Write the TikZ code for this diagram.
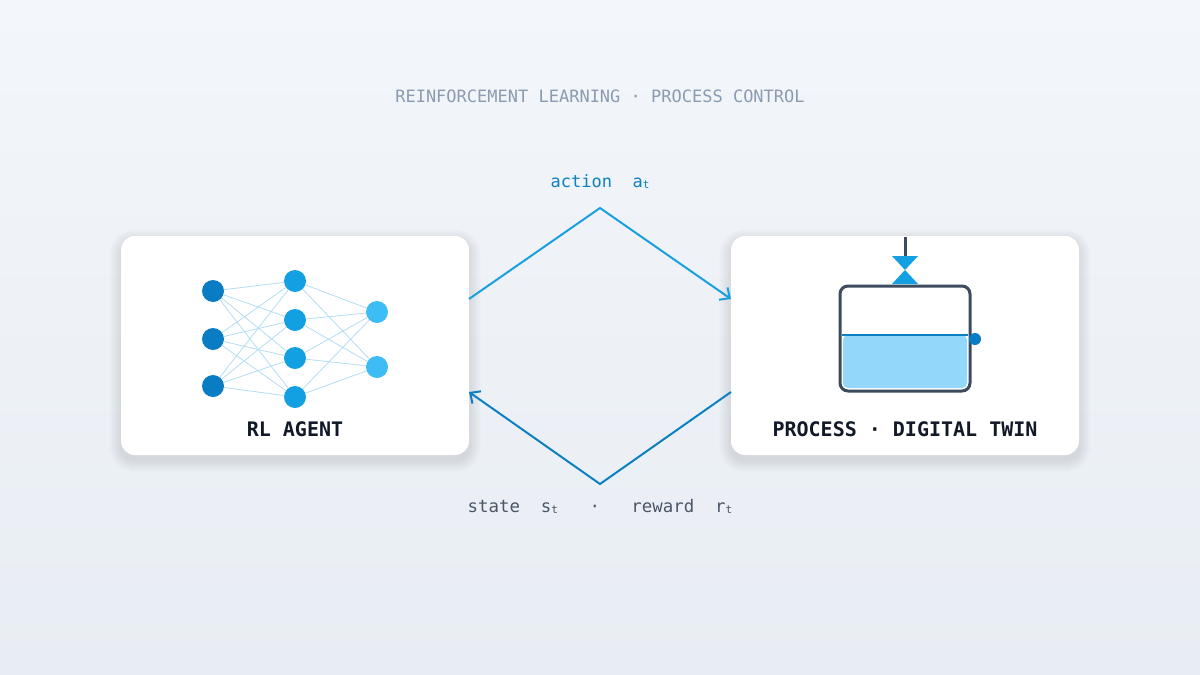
\documentclass[tikz,border=0pt]{standalone}
\usepackage{fontspec}
\setmonofont{DejaVu Sans Mono}
\usetikzlibrary{arrows.meta}
\definecolor{bgA}{HTML}{F3F6FA}\definecolor{bgB}{HTML}{E8EDF3}
\definecolor{inC}{HTML}{0A7CC4}\definecolor{hidC}{HTML}{13A0E3}\definecolor{outC}{HTML}{3DBCF5}
\definecolor{actC}{HTML}{1A9FDF}\definecolor{rewC}{HTML}{0D80C2}
\definecolor{ttl}{HTML}{8A9BB0}\definecolor{lbl}{HTML}{4A5566}\definecolor{dark}{HTML}{111827}
\definecolor{tank}{HTML}{3D4B5E}\definecolor{water}{HTML}{93D8FB}\definecolor{edgeC}{HTML}{B5DDF3}
\definecolor{shd}{HTML}{5A6B85}
\begin{document}
\begin{tikzpicture}[x=1pt,y=-1pt,font=\ttfamily,
 box/.style={draw=none,fill=white,rounded corners=14pt},
 neu/.style={circle,inner sep=0pt,minimum size=22pt},
 edge/.style={draw=edgeC,line width=0.8pt},
 flow/.style={line width=2pt,-{Straight Barb[length=8pt,width=15pt]}}]
\shade[top color=bgA,bottom color=bgB] (0,0) rectangle (1200,675);
\useasboundingbox (0,0) rectangle (1200,675);
\node[text=ttl,font=\ttfamily\fontsize{17}{20}\selectfont] (title) at (600,96) {REINFORCEMENT LEARNING · PROCESS CONTROL};
\foreach \cx in {295,905}
  \foreach \k in {1,...,12}
    \fill[shd,opacity=0.012,rounded corners={14pt+\k pt}] (\cx-174-\k,236-\k+5) rectangle (\cx+174+\k,455+\k+5);
\node[box,minimum width=348pt,minimum height=219pt] (agent) at (295,345.5) {};
\node[box,minimum width=348pt,minimum height=219pt] (proc) at (905,345.5) {};
\foreach \y [count=\i] in {291,339,386} \node[neu,fill=inC] (i\i) at (213,\y) {};
\foreach \y [count=\i] in {281,320,358,397} \node[neu,fill=hidC] (h\i) at (295,\y) {};
\foreach \y [count=\i] in {312,367} \node[neu,fill=outC] (o\i) at (377,\y) {};
\foreach \a in {1,2,3} \foreach \b in {1,2,3,4} \draw[edge] (i\a) -- (h\b);
\foreach \a in {1,2,3,4} \foreach \b in {1,2} \draw[edge] (h\a) -- (o\b);
\node[text=dark,font=\ttfamily\bfseries\fontsize{20}{23}\selectfont] (al) at (295,429) {RL AGENT};
\node[text=dark,font=\ttfamily\bfseries\fontsize{20}{23}\selectfont] (pl) at (905,429) {PROCESS · DIGITAL TWIN};
% tank
\fill[water,rounded corners=5pt] (843,335) -- (967,335) -- (967,388) -- (843,388) -- cycle;
\draw[rewC,line width=2pt] (842,335) -- (968,335);
\draw[tank,line width=3pt,rounded corners=8pt] (840,286) rectangle (970,391);
\node[circle,fill=inC,inner sep=0pt,minimum size=12pt] (sensor) at (975,339) {};
\coordinate (pipeT) at (905,237); \coordinate (pipeB) at (905,256);
\draw[tank,line width=3pt] (pipeT) -- (pipeB);
\fill[hidC] (892,256) -- (918,256) -- (905,270) -- cycle (892,284) -- (918,284) -- (905,270) -- cycle;
% flows
\coordinate (top) at (600,208); \coordinate (bot) at (600,484);
\draw[flow,actC,line join=miter] (469,299) -- (top) -- (731,299);
\draw[flow,rewC,line join=miter] (731,392) -- (bot) -- (469,392);
\node[text=rewC,font=\ttfamily\fontsize{17}{20}\selectfont] (act) at (600,182) {action\ \ a\raisebox{-1pt}{\fontsize{11}{12}\selectfont t}};
\node[text=lbl,font=\ttfamily\fontsize{17.4}{20}\selectfont] (st) at (600,506) {state\ \ s\raisebox{-1pt}{\fontsize{11}{12}\selectfont t}\ \ \ ·\ \ \ reward\ \ r\raisebox{-1pt}{\fontsize{11}{12}\selectfont t}};
\end{tikzpicture}
\end{document}
